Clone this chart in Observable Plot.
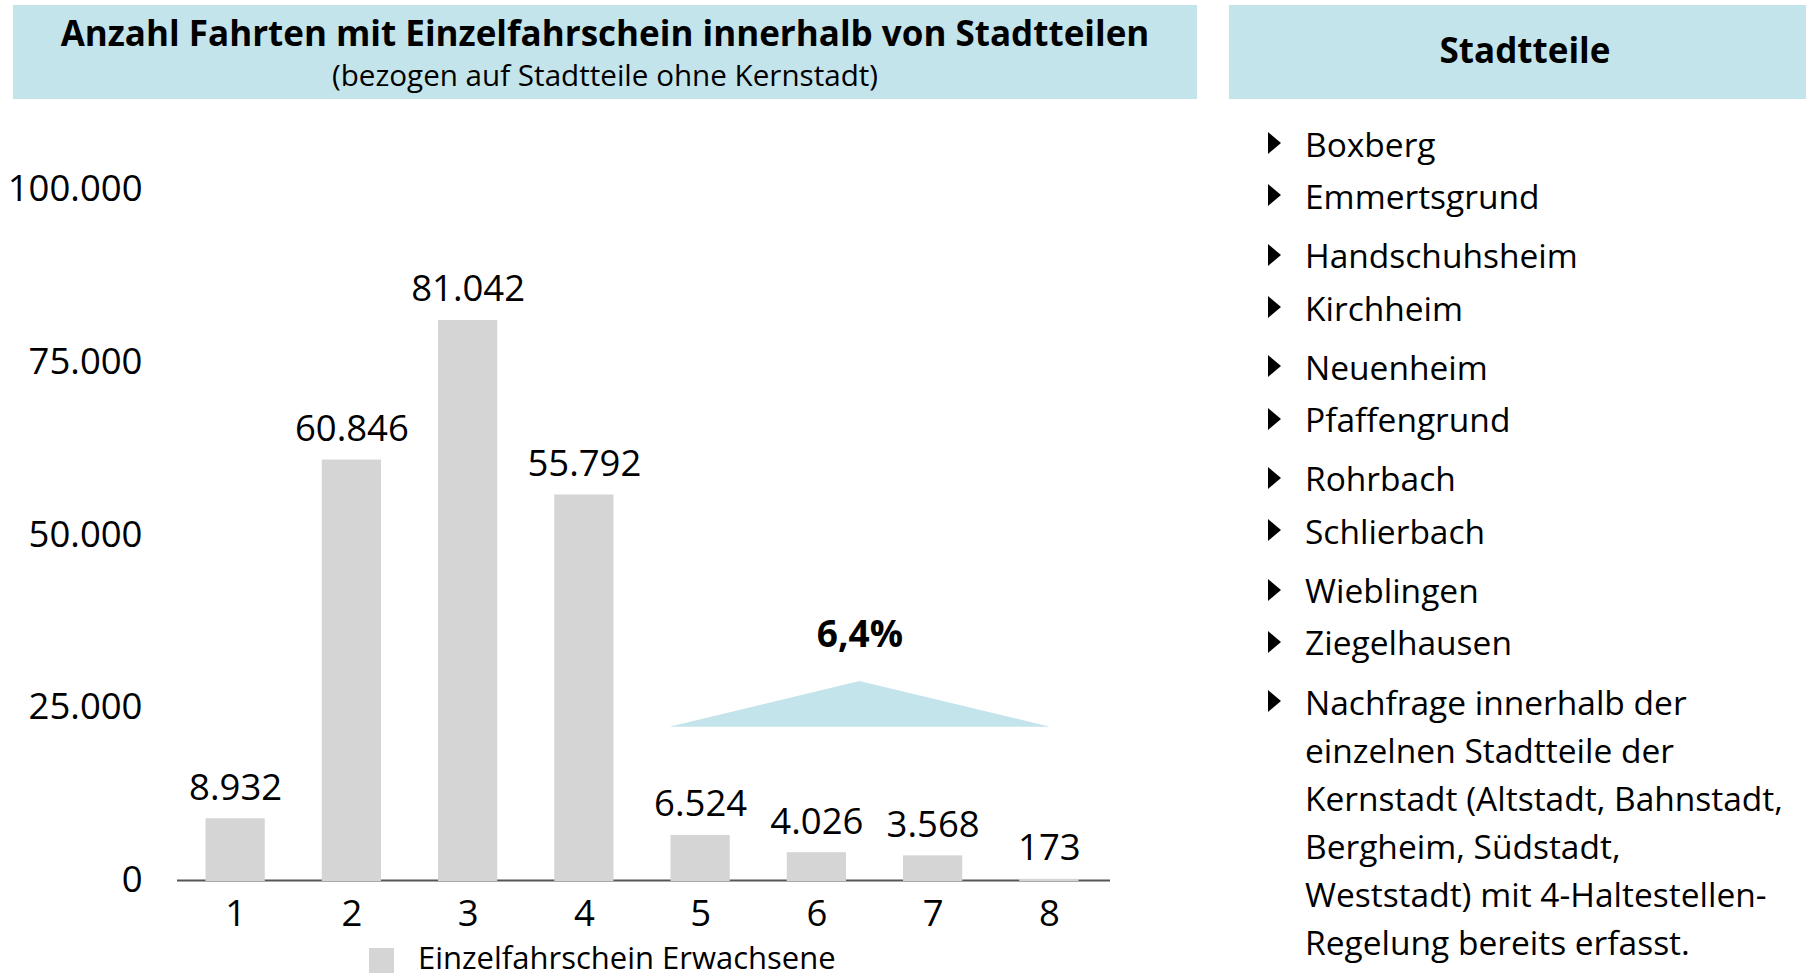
<!DOCTYPE html>
<html><head><meta charset="utf-8">
<script src="https://cdn.jsdelivr.net/npm/d3@7"></script>
<script src="https://cdn.jsdelivr.net/npm/@observablehq/plot@0.6"></script>
<style>
html,body{margin:0;padding:0;background:#fff;}
body{width:1806px;height:973px;position:relative;overflow:hidden;font-family:"Open Sans",sans-serif;color:#000;}
.box{position:absolute;background:#c4e4eb;}
#titlebox{left:13px;top:5px;width:1184px;height:94px;}
#title{position:absolute;left:0;right:0;top:9.9px;text-align:center;font-weight:700;font-size:35px;line-height:35px;white-space:nowrap;}
#subtitle{position:absolute;left:0;right:0;top:54.7px;text-align:center;font-size:29.6px;line-height:29.6px;}
#sidebox{left:1229px;top:5px;width:592px;height:94px;}
#sidehead{position:absolute;left:0;right:0;top:26.9px;text-align:center;font-weight:700;font-size:35px;line-height:35px;}
#chart{position:absolute;left:0;top:110px;}
#list{position:absolute;left:1305px;top:119.7px;margin:0;padding:0;list-style:none;font-size:33.5px;line-height:48px;}
#list li{position:relative;white-space:nowrap;}
#list li:nth-child(odd){margin-bottom:4.3px;}
#list li:nth-child(even){margin-bottom:11.3px;}
#list li::before{content:"";position:absolute;left:-37px;top:12.5px;width:0;height:0;border-left:13px solid #000;border-top:11.5px solid transparent;border-bottom:11.5px solid transparent;}
#legend{position:absolute;left:369px;top:942px;height:31px;font-size:31px;line-height:31px;white-space:nowrap;}
#legend .sw{position:absolute;left:0;top:6px;width:25px;height:25px;}
#legend .lab{position:absolute;left:49px;top:0;}
</style>
</head><body>
<div id="titlebox" class="box"><div id="title"></div><div id="subtitle"></div></div>
<div id="sidebox" class="box"><div id="sidehead"></div></div>
<div id="chart"></div>
<ul id="list"></ul>
<div id="legend"><div class="sw"></div><div class="lab"></div></div>
<script>
// ---- data ----
const title = "Anzahl Fahrten mit Einzelfahrschein innerhalb von Stadtteilen";
const subtitle = "(bezogen auf Stadtteile ohne Kernstadt)";
const categories = [1, 2, 3, 4, 5, 6, 7, 8];
const values = [8932, 60846, 81042, 55792, 6524, 4026, 3568, 173];
const yTicks = [0, 25000, 50000, 75000, 100000];
const seriesName = "Einzelfahrschein Erwachsene";
const shareLabel = "6,4%";
const shareTriangleX = [4.735, 6.37, 8.01];
const shareTriangleTop = [22185, 28800, 22185];
const shareTriangleBase = [22185, 22185, 22185];
const sideTitle = "Stadtteile";
const districts = ["Boxberg", "Emmertsgrund", "Handschuhsheim", "Kirchheim", "Neuenheim", "Pfaffengrund", "Rohrbach", "Schlierbach", "Wieblingen", "Ziegelhausen"];
const noteLines = ["Nachfrage innerhalb der", "einzelnen Stadtteile der", "Kernstadt (Altstadt, Bahnstadt,", "Bergheim, Südstadt,", "Weststadt) mit 4-Haltestellen-", "Regelung bereits erfasst."];

// ---- colors ----
const barColor = "#d5d5d5";
const blue = "#c4e4eb";
const axisColor = "#555555";

const de = d3.formatLocale({decimal: ",", thousands: ".", grouping: [3], currency: ["", "€"]});
const fmt = de.format(",");

const data = categories.map((c, i) => ({cat: c, value: values[i]}));
const tri = shareTriangleX.map((x, i) => ({x, top: shareTriangleTop[i], base: shareTriangleBase[i]}));
const apex = tri.reduce((a, b) => (b.top > a.top ? b : a));

document.getElementById("title").textContent = title;
document.getElementById("subtitle").textContent = subtitle;
document.getElementById("sidehead").textContent = sideTitle;
document.querySelector("#legend .sw").style.background = barColor;
document.querySelector("#legend .lab").textContent = seriesName;
document.querySelectorAll(".box").forEach(b => b.style.background = blue);

const ul = document.getElementById("list");
districts.forEach(d => { const li = document.createElement("li"); li.textContent = d; ul.appendChild(li); });
{ const li = document.createElement("li"); li.innerHTML = noteLines.map(s => s.replace(/&/g, "&amp;")).join("<br>"); ul.appendChild(li); }

const chart = Plot.plot({
  width: 1200,
  height: 830,
  marginLeft: 177,
  marginRight: 93,
  marginTop: 79,
  marginBottom: 60,
  style: {fontFamily: "Open Sans, sans-serif", fontSize: "36.5px", color: "#000", background: "transparent"},
  x: {domain: [0.5, 8.5], ticks: categories, tickFormat: d => String(d), tickSize: 0, tickPadding: 20, label: null},
  y: {domain: [0, 100000], ticks: yTicks, tickFormat: fmt, tickSize: 0, tickPadding: 35, label: null},
  marks: [
    Plot.ruleY([0], {stroke: axisColor, strokeWidth: 2, insetRight: -3}),
    Plot.rectY(data, {x1: d => d.cat - 0.5, x2: d => d.cat + 0.5, y: "value", insetLeft: 28.5, insetRight: 28.5, insetBottom: -1, fill: barColor}),
    Plot.text(data, {x: "cat", y: "value", text: d => fmt(d.value), lineAnchor: "bottom", dy: -19, fontSize: 36.5, fill: "#000"}),
    Plot.areaY(tri, {x: "x", y1: "base", y2: "top", fill: blue}),
    Plot.text([apex], {x: "x", y: "top", text: () => shareLabel, lineAnchor: "bottom", dy: -34, fontSize: 37, fontWeight: 700, fill: "#000"})
  ]
});
document.getElementById("chart").appendChild(chart);
</script>
</body></html>
